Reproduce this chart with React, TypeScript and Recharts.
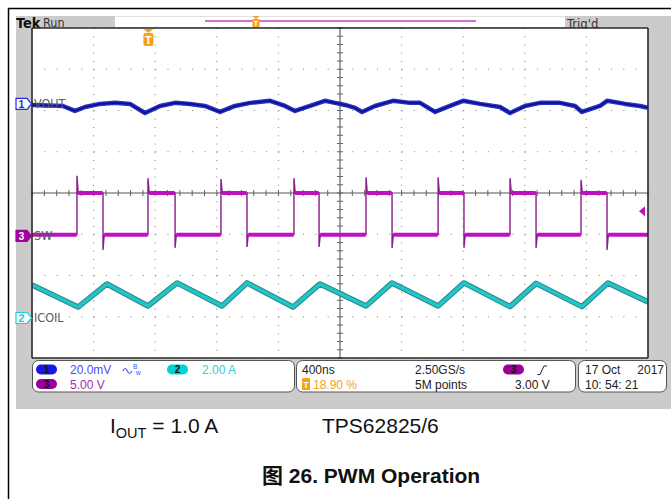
import React from 'react';
import {
  ComposedChart,
  Line,
  XAxis,
  YAxis,
  CartesianGrid,
  ReferenceLine,
  ReferenceDot,
} from 'recharts';

// ---- Scope settings ----
const TIME_PER_DIV_NS = 400;
const H_DIVS = 10;
const V_DIVS = 8;
const MINOR_PER_DIV = 5;
const T_END = TIME_PER_DIV_NS * H_DIVS;

// scale per division and marker position (divisions above screen centre)
const CH1_SCALE_MV = 20;
const CH1_POS = 2.16;
const CH2_SCALE_A = 2;
const CH2_POS = -3.03;
const CH3_SCALE_V = 5;
const CH3_POS = -1.04;
const TRIG_LEVEL_V = 3.0;
const TRIG_POS_PCT = 18.9;

// ---- Channel 1: VOUT (AC, mV) ----
const voutTimeNs = [
  0, 201, 279, 344, 442, 539, 636, 734, 831, 929, 1026, 1123, 1221, 1318, 1416, 1546, 1643, 1708,
  1805, 1903, 1968, 2033, 2098, 2143, 2227, 2344, 2455, 2520, 2617, 2714, 2799, 2909, 3039, 3104,
  3201, 3299, 3429, 3526, 3571, 3688, 3734, 3851, 3948, 4000,
];
const voutMv = [
  -0.5, -1.0, -3.4, -1.5, 0, 0.5, 0, -4.4, -1.0, 0.5, 0, -1.0, -3.9, -1.0, 0.5, 1.5, -1.0, -3.4,
  -1.0, 1.5, 0.5, -0.5, -1.9, -3.9, -1.0, 1.5, 0.5, 0.5, -3.9, -1.0, 1.5, 0, -1.5, -4.4, -1.0, 0.5,
  0.5, -1.0, -3.9, -1.0, 1.5, 0, -1.0, -1.9,
];

// ---- Channel 2: ICOIL (A), valleys and peaks ----
const icoilTimeNs = [
  0, 299, 487, 753, 942, 1234, 1396, 1695, 1870, 2169, 2338, 2637, 2805, 3104, 3273, 3571, 3740, 4000,
];
const icoilA = [
  1.6, 0.53, 1.65, 0.58, 1.7, 0.58, 1.7, 0.53, 1.65, 0.58, 1.7, 0.58, 1.7, 0.55, 1.68, 0.55, 1.7, 0.78,
];

// ---- Channel 3: SW node (V) ----
const swRiseNs = [292, 753, 1227, 1701, 2169, 2637, 3104, 3565];
const swFallNs = [461, 929, 1396, 1864, 2338, 2805, 3273, 3734];
const swOvershootV = [7.3, 7.0, 6.9, 7.0, 7.1, 7.1, 7.0, 6.8];
const swUndershootV = [-1.7, -1.45, -1.35, -1.35, -1.45, -1.45, -1.45, -1.7];
const SW_HIGH_V = 5.2;
const SW_LOW_V = 0.15;
const SW_RING_NS = 8;

type Pt = { t: number; v: number | null };

const voutData: Pt[] = voutTimeNs.map((t, i) => ({ t, v: voutMv[i] }));
const icoilData: Pt[] = icoilTimeNs.map((t, i) => ({ t, v: icoilA[i] }));

// thin trace through the switching edges and their spikes
const swEdgeData: Pt[] = [{ t: 0, v: SW_LOW_V }];
swRiseNs.forEach((tr, i) => {
  const tf = swFallNs[i];
  swEdgeData.push(
    { t: tr, v: SW_LOW_V },
    { t: tr, v: swOvershootV[i] },
    { t: tr + SW_RING_NS, v: SW_HIGH_V },
    { t: tf, v: SW_HIGH_V },
    { t: tf, v: swUndershootV[i] },
    { t: tf + SW_RING_NS, v: SW_LOW_V },
  );
});
swEdgeData.push({ t: T_END, v: SW_LOW_V });

// thick noisy plateaus, broken at every edge
const swBandData: Pt[] = [{ t: 0, v: SW_LOW_V }, { t: swRiseNs[0] - 2, v: SW_LOW_V }];
swRiseNs.forEach((tr, i) => {
  const tf = swFallNs[i];
  const next = i + 1 < swRiseNs.length ? swRiseNs[i + 1] - 2 : T_END;
  swBandData.push(
    { t: tr, v: null },
    { t: tr + SW_RING_NS, v: SW_HIGH_V },
    { t: tf - 2, v: SW_HIGH_V },
    { t: tf, v: null },
    { t: tf + SW_RING_NS, v: SW_LOW_V },
    { t: next, v: SW_LOW_V },
  );
});

// graticule positions
const majorT = Array.from({ length: H_DIVS + 1 }, (_, i) => i * TIME_PER_DIV_NS);
const minorT = Array.from({ length: H_DIVS * MINOR_PER_DIV + 1 }, (_, i) => (i * TIME_PER_DIV_NS) / MINOR_PER_DIV);
const majorDiv = Array.from({ length: V_DIVS + 1 }, (_, i) => i - V_DIVS / 2);
const minorDiv = Array.from({ length: V_DIVS * MINOR_PER_DIV + 1 }, (_, i) => +(i / MINOR_PER_DIV - V_DIVS / 2).toFixed(2));

const chDomain = (scale: number, pos: number): [number, number] => [
  (-V_DIVS / 2 - pos) * scale,
  (V_DIVS / 2 - pos) * scale,
];

const NARROW = "'Liberation Sans Narrow', 'DejaVu Sans Condensed', 'Liberation Sans', sans-serif";
const SANS = "'Liberation Sans', Arial, 'Noto Sans CJK SC', sans-serif";

const C1 = '#2a30c4';
const C1_CORE = '#0c108e';
const C2 = '#22c6c8';
const C3 = '#c010c0';
const ORANGE = '#f5a01e';

function ChannelTag(props: any) {
  const { cx, cy, num, color, filled, label } = props;
  const x0 = cx - 16;
  return (
    <g>
      <path
        d={`M${x0},${cy - 5.5} H${cx - 5} L${cx - 0.5},${cy} L${cx - 5},${cy + 5.5} H${x0} Z`}
        fill={filled ? color : '#fff'}
        stroke={color}
        strokeWidth={1.2}
      />
      <text x={cx - 10.5} y={cy + 4} textAnchor="middle" fontSize={10.5} fontWeight="bold"
        fontFamily={SANS} fill={filled ? '#fff' : color}>{num}</text>
      <text x={cx + 2} y={cy + 4.5} fontSize={12.5} fontFamily={NARROW} fill="#5a5a5a">{label}</text>
    </g>
  );
}

function TrigLevelArrow(props: any) {
  const { cx, cy } = props;
  return <path d={`M${cx - 9},${cy} L${cx - 3},${cy - 5} L${cx - 3},${cy + 5} Z`} fill={C3} />;
}

function TrigPosMarker(props: any) {
  const { cx, cy } = props;
  return (
    <g>
      <path d={`M${cx - 5},${cy + 1} L${cx + 5},${cy + 1} L${cx},${cy + 5} Z`} fill={ORANGE} />
      <rect x={cx - 5} y={cy + 5} width={10} height={13} rx={2} fill={ORANGE} />
      <text x={cx} y={cy + 15.5} textAnchor="middle" fontSize={11} fontWeight="bold" fontFamily={SANS} fill="#fff">T</text>
    </g>
  );
}

function Pill({ cx, cy, fill, n }: { cx: number; cy: number; fill: string; n: string }) {
  return (
    <g>
      <rect x={cx - 10.5} y={cy - 5} width={21} height={10} rx={5} fill={fill} />
      <text x={cx} y={cy + 3.6} textAnchor="middle" fontSize={10} fontWeight="bold" fontFamily={SANS} fill="#111">{n}</text>
    </g>
  );
}

function Backdrop() {
  const info = { fontFamily: SANS, fontSize: 12 } as const;
  return (
    <svg width={671} height={499} style={{ position: 'absolute', left: 0, top: 0 }}>
      <rect x={0} y={0} width={671} height={499} fill="#fff" />
      <line x1={8} y1={8.5} x2={671} y2={8.5} stroke="#000" strokeWidth={1.5} />
      <line x1={8.5} y1={8} x2={8.5} y2={499} stroke="#000" strokeWidth={1.5} />
      <rect x={16} y={16} width={655} height={393} fill="#cbcbcb" />

      {/* status bar */}
      <text x={16} y={27.5} fontFamily={NARROW} fontWeight="bold" fontSize={14.5} fill="#111">Tek</text>
      <text x={43} y={27} fontFamily={NARROW} fontSize={12.5} fill="#333">Run</text>
      <rect x={115} y={16} width={450} height={11} fill="#fff" />
      <line x1={115} y1={16.5} x2={565} y2={16.5} stroke="#e2e2e2" />
      <line x1={205} y1={21} x2={476} y2={21} stroke="#cf6fcf" strokeWidth={1.8} />
      <path d="M252.5,16 L259.5,16 L256,19 Z" fill={ORANGE} />
      <rect x={252.5} y={19} width={7} height={8} rx={1} fill={ORANGE} />
      <text x={256} y={26} textAnchor="middle" fontSize={8} fontWeight="bold" fontFamily={SANS} fill="#fff">T</text>
      <text x={567} y={27.5} fontFamily={NARROW} fontSize={13} fill="#333">Trig'd</text>

      {/* readout boxes */}
      <rect x={32.5} y={360.5} width={262} height={31.5} rx={6} fill="#fff" stroke="#555" />
      <rect x={296.5} y={360.5} width={279} height={31.5} rx={6} fill="#fff" stroke="#555" />
      <rect x={578.5} y={360.5} width={88} height={31.5} rx={6} fill="#fff" stroke="#555" />

      <Pill cx={46.5} cy={369.5} fill="#1717e6" n="1" />
      <text x={70} y={374.3} {...info} fill="#4a4aff">20.0mV</text>
      <path d="M123,371 q2.2,-5 4.4,0 t4.4,0" fill="none" stroke="#4a4aff" strokeWidth={1.1} />
      <text x={133} y={369} fontFamily={SANS} fontSize={6.5} fill="#4a4aff">B</text>
      <text x={136} y={375} fontFamily={SANS} fontSize={6.5} fill="#4a4aff">w</text>
      <Pill cx={177.5} cy={369.5} fill="#00d2d2" n="2" />
      <text x={202} y={374.3} {...info} fill="#2cd0dc">2.00 A</text>
      <Pill cx={46.5} cy={384} fill="#980098" n="3" />
      <text x={70} y={388.8} {...info} fill="#a82aa8">5.00 V</text>

      <text x={302} y={374.3} {...info} fill="#222">400ns</text>
      <rect x={302} y={378} width={8} height={12} rx={1} fill={ORANGE} />
      <text x={306} y={387.5} textAnchor="middle" fontSize={9} fontWeight="bold" fontFamily={SANS} fill="#fff">T</text>
      <text x={313} y={388.8} {...info} fill={ORANGE}>18.90 %</text>
      <text x={415} y={374.3} {...info} fill="#222">2.50GS/s</text>
      <text x={415} y={388.8} {...info} fill="#222">5M points</text>
      <Pill cx={513.5} cy={369.5} fill="#980098" n="3" />
      <path d="M537.5,374.5 L540,374.5 L544,366 L547,366" fill="none" stroke="#222" strokeWidth={1} />
      <text x={515} y={388.8} {...info} fill="#222">3.00 V</text>
      <text x={585} y={374.3} {...info} fill="#222">17 Oct</text>
      <text x={664} y={374.3} {...info} textAnchor="end" fill="#222">2017</text>
      <text x={585} y={388.8} {...info} fill="#222">10: 54: 21</text>

      {/* caption */}
      <text x={110} y={433} fontFamily={SANS} fontSize={21} fill="#111">
        I<tspan fontSize={14.5} dy={5}>OUT</tspan><tspan dy={-5}> = 1.0 A</tspan>
      </text>
      <text x={322} y={433} fontFamily={SANS} fontSize={21} fill="#111">TPS62825/6</text>
      <text x={262} y={483} fontFamily={SANS} fontSize={21} fontWeight="bold" fill="#111">图 26. PWM Operation</text>
    </svg>
  );
}

export default function App() {
  const frameLine = { stroke: '#2a2a2a', strokeWidth: 1.6 };
  const frameTick = { stroke: '#555', strokeWidth: 1 };
  return (
    <div style={{ position: 'absolute', left: 0, top: 0, width: 671, height: 499, overflow: 'hidden' }}>
      <Backdrop />
      <div style={{ position: 'absolute', left: 0, top: 0 }}>
        <ComposedChart width={671} height={499} margin={{ top: 28, right: 23, bottom: 141, left: 32 }}>
          <XAxis xAxisId="t" dataKey="t" type="number" domain={[0, T_END]} ticks={majorT} hide height={0} allowDataOverflow />
          <XAxis xAxisId="top" orientation="top" mirror type="number" domain={[0, T_END]} ticks={minorT}
            tick={false} tickSize={3} axisLine={frameLine} tickLine={frameTick} allowDataOverflow />
          <XAxis xAxisId="bottom" orientation="bottom" mirror type="number" domain={[0, T_END]} ticks={minorT}
            tick={false} tickSize={3} axisLine={frameLine} tickLine={frameTick} allowDataOverflow />
          <YAxis yAxisId="div" type="number" domain={[-V_DIVS / 2, V_DIVS / 2]} ticks={majorDiv} hide width={0} allowDataOverflow />
          <YAxis yAxisId="left" orientation="left" mirror type="number" domain={[-V_DIVS / 2, V_DIVS / 2]} ticks={minorDiv}
            tick={false} tickSize={3} axisLine={frameLine} tickLine={frameTick} allowDataOverflow />
          <YAxis yAxisId="right" orientation="right" mirror type="number" domain={[-V_DIVS / 2, V_DIVS / 2]} ticks={minorDiv}
            tick={false} tickSize={3} axisLine={frameLine} tickLine={frameTick} allowDataOverflow />
          <YAxis yAxisId="ch1" type="number" domain={chDomain(CH1_SCALE_MV, CH1_POS)} hide width={0} allowDataOverflow />
          <YAxis yAxisId="ch2" type="number" domain={chDomain(CH2_SCALE_A, CH2_POS)} hide width={0} allowDataOverflow />
          <YAxis yAxisId="ch3" type="number" domain={chDomain(CH3_SCALE_V, CH3_POS)} hide width={0} allowDataOverflow />

          <CartesianGrid xAxisId="t" yAxisId="div" horizontal={false} stroke="#7c7c7c" strokeDasharray="1 7.25" fill="#fff" />
          <CartesianGrid xAxisId="t" yAxisId="div" vertical={false} stroke="#7c7c7c" strokeDasharray="1 11.32" />

          <ReferenceLine xAxisId="t" yAxisId="div" y={0} stroke="#8c8c8c" strokeWidth={1.6} />
          <ReferenceLine xAxisId="t" yAxisId="div" x={T_END / 2} stroke="#8c8c8c" strokeWidth={1.6} />
          {minorT.map((t) => (
            <ReferenceLine key={`hx${t}`} xAxisId="t" yAxisId="div" stroke="#666"
              segment={[{ x: t, y: -0.075 }, { x: t, y: 0.075 }]} />
          ))}
          {minorDiv.map((d) => (
            <ReferenceLine key={`vy${d}`} xAxisId="t" yAxisId="div" stroke="#666"
              segment={[{ x: T_END / 2 - 20, y: d }, { x: T_END / 2 + 20, y: d }]} />
          ))}

          <Line xAxisId="t" yAxisId="ch1" data={voutData} dataKey="v" stroke={C1} strokeWidth={4.5}
            dot={false} activeDot={false} isAnimationActive={false} strokeLinejoin="round" />
          <Line xAxisId="t" yAxisId="ch1" data={voutData} dataKey="v" stroke={C1_CORE} strokeWidth={1.6}
            dot={false} activeDot={false} isAnimationActive={false} strokeLinejoin="round" />
          <Line xAxisId="t" yAxisId="ch2" data={icoilData} dataKey="v" stroke="#2c8a8c" strokeWidth={5.5}
            dot={false} activeDot={false} isAnimationActive={false} strokeLinejoin="round" />
          <Line xAxisId="t" yAxisId="ch2" data={icoilData} dataKey="v" stroke={C2} strokeWidth={3.4}
            dot={false} activeDot={false} isAnimationActive={false} strokeLinejoin="round" />
          <Line xAxisId="t" yAxisId="ch3" data={swEdgeData} dataKey="v" stroke="#8a1a8a" strokeWidth={1.4}
            dot={false} activeDot={false} isAnimationActive={false} />
          <Line xAxisId="t" yAxisId="ch3" data={swBandData} dataKey="v" stroke={C3} strokeWidth={4}
            dot={false} activeDot={false} isAnimationActive={false} />

          <ReferenceDot xAxisId="t" yAxisId="ch1" x={0} y={0} r={0}
            shape={(p: any) => <ChannelTag {...p} num="1" color="#2626f0" label="VOUT" />} />
          <ReferenceDot xAxisId="t" yAxisId="ch3" x={0} y={0} r={0}
            shape={(p: any) => <ChannelTag {...p} num="3" color="#a000a0" filled label="SW" />} />
          <ReferenceDot xAxisId="t" yAxisId="ch2" x={0} y={0} r={0}
            shape={(p: any) => <ChannelTag {...p} num="2" color="#20c8d8" label="ICOIL" />} />
          <ReferenceDot xAxisId="t" yAxisId="ch3" x={T_END} y={TRIG_LEVEL_V} r={0}
            shape={(p: any) => <TrigLevelArrow {...p} />} />
          <ReferenceDot xAxisId="t" yAxisId="div" x={(TRIG_POS_PCT / 100) * T_END} y={V_DIVS / 2} r={0}
            shape={(p: any) => <TrigPosMarker {...p} />} />
        </ComposedChart>
      </div>
    </div>
  );
}
